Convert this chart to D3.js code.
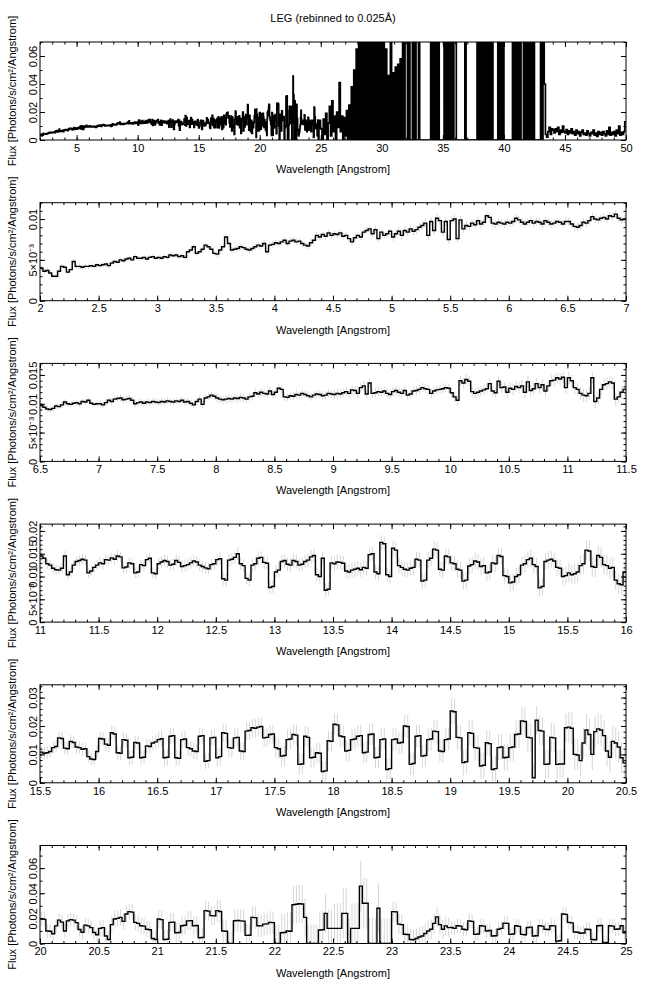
<!DOCTYPE html>
<html><head><meta charset="utf-8">
<script src="https://cdn.jsdelivr.net/npm/d3@7"></script>
<style>body{margin:0;background:#fff} text{font-family:"Liberation Sans",Arial,sans-serif;fill:#000}</style>
</head><body><svg id="c" width="647" height="995"></svg>
<script>
const TITLE = "LEG (rebinned to 0.025Å)";
const X_TITLE = "Wavelength [Angstrom]";
const Y_TITLE = "Flux [Photons/s/cm²/Angstrom]";
const FLUX_UNIT = 1e-4;

// fine spectrum: 2.0 - 25.0 Å, 0.025 Å bins (flux in 1e-4 units)
const fineStart = 2.0, fineStep = 0.025;
const fluxFine = [
// 2.0
40,36,37,34,30,30,36,42,41,35,38,48,42,42,41,42,42,43,42,44,
// 2.5
43,44,45,43,46,48,47,50,49,51,52,50,54,52,52,53,51,53,54,52,
// 3.0
53,52,54,53,56,55,56,54,55,53,60,62,66,58,60,63,68,66,63,58,
// 3.5
57,62,66,78,70,62,63,64,66,65,63,62,64,66,68,67,70,60,68,69,
// 4.0
71,70,72,74,70,73,74,72,73,70,68,67,71,74,80,78,81,79,83,80,
// 4.5
82,81,83,79,80,76,72,77,80,78,84,86,88,82,87,76,84,80,82,85,
// 5.0
78,82,85,80,86,84,88,85,87,90,92,95,80,97,86,101,98,84,97,75,
// 5.5
98,100,76,99,88,92,91,95,93,98,94,96,104,102,95,94,96,95,94,96,
// 6.0
95,97,101,99,96,94,96,98,95,97,96,94,98,96,94,95,97,96,94,97,
// 6.5
97,94,91,90,92,96,95,98,103,100,99,101,102,100,104,103,106,101,99,100,
// 7.0
100,98,102,106,104,108,109,110,107,108,109,106,100,102,103,101,103,102,104,103,
// 7.5
102,104,103,105,104,103,105,104,106,103,104,101,98,104,108,99,110,112,115,113,
// 8.0
110,108,107,108,109,108,110,109,111,110,108,112,113,119,117,120,118,117,122,116,
// 8.5
120,127,125,112,111,114,113,116,115,118,116,114,112,115,117,116,114,115,118,117,
// 9.0
116,118,117,119,121,118,124,123,118,128,131,117,136,118,119,121,120,122,118,116,
// 9.5
121,123,120,118,123,115,117,122,123,125,128,126,125,118,122,124,125,126,128,127,
// 10.0
119,112,106,140,136,142,139,121,118,120,122,124,126,135,122,119,139,128,129,120,
// 10.5
127,125,130,128,131,120,138,123,126,135,128,133,122,131,140,141,145,143,146,128,
// 11.0
145,140,128,125,118,115,114,118,145,104,110,125,133,135,138,136,108,112,120,125,
// 11.5
130,128,137,136,141,138,145,143,119,121,130,128,108,110,126,124,137,140,108,106,
// 12.0
128,132,135,133,125,127,135,131,122,124,126,130,134,132,125,122,119,117,126,128,
// 12.5
137,139,95,92,136,138,142,150,128,124,96,92,125,128,140,142,131,129,76,78,
// 13.0
110,114,133,135,127,125,135,133,125,127,133,136,143,146,104,100,140,70,72,130,
// 13.5
128,132,131,129,112,110,114,116,118,115,120,118,148,150,110,106,175,172,104,100,
// 14.0
162,158,124,120,116,114,118,120,138,136,90,92,136,140,160,158,116,114,145,143,
// 14.5
130,128,116,114,90,92,123,126,134,132,122,124,108,110,130,128,146,144,102,100,
// 15.0
86,88,100,104,125,128,137,140,126,122,75,78,133,136,138,134,120,118,100,102,
// 15.5
108,104,106,110,124,128,158,156,122,120,146,142,126,124,118,120,92,84,82,110,
// 16.0
156,154,136,132,176,172,106,104,152,150,88,90,142,140,88,90,130,128,140,144,
// 16.5
152,155,88,90,164,166,88,86,152,154,124,120,112,110,164,166,76,78,158,160,
// 17.0
88,92,176,174,124,122,158,160,112,110,182,184,194,192,196,198,158,160,170,172,
// 17.5
124,120,94,96,152,154,170,168,65,66,164,160,88,90,106,104,40,42,148,146,
// 18.0
206,204,165,162,112,114,152,154,164,166,106,108,170,172,88,90,152,154,47,50,
// 18.5
152,154,140,142,200,198,65,68,164,166,94,96,152,154,182,180,112,110,152,154,
// 19.0
253,250,160,158,71,74,176,174,124,122,59,62,141,138,47,50,124,126,88,90,
// 19.5
124,126,170,172,218,216,160,158,18,220,184,182,65,66,160,158,65,66,66,194,
// 20.0
196,192,100,98,78,140,186,170,100,180,190,186,166,112,90,146,140,126,88,70,
// 20.5
120,126,60,32,150,195,200,208,176,235,254,250,168,160,141,138,114,110,40,32,
// 21.0
195,190,32,34,168,170,86,88,141,145,180,182,140,143,46,48,262,258,222,220,
// 21.5
262,255,100,98,0,0,181,183,180,178,65,66,208,206,141,140,154,156,168,166,
// 22.0
0,0,86,88,100,98,308,312,316,314,208,0,0,0,0,108,110,240,120,120,
// 22.5
120,120,120,240,240,0,120,120,120,457,320,320,0,0,0,280,0,0,0,0,
// 23.0
254,252,154,150,74,72,32,30,40,52,60,80,100,114,160,212,150,113,140,126,
// 23.5
127,120,141,138,114,110,180,176,73,76,141,138,100,104,60,62,114,120,162,160,
// 24.0
73,76,141,136,73,70,127,130,60,62,141,138,114,112,141,140,19,22,235,232,
// 24.5
168,164,92,90,81,84,114,112,32,30,141,143,5,8,141,138,114,116,141,86
];

// error half-lengths per 0.5 Å chunk of the fine spectrum (1e-4 units)
const errChunk = 0.5;
const errFine = [
3,3,3,4,4,4,5,5,5,5,
6,6,7,7,8,8,9,10,11,12,
13,14,15,16,17,18,19,22,25,28,
32,36,38,40,45,50,55,65,75,90,
150,200,80,55,55,55
];

// long-wavelength part, 25 - 50 Å shown in the overview (1e-4 units, 0.1 Å steps)
const coarseStart = 25.0, coarseStep = 0.1;
const fluxCoarse = [
80,0,150,40,190,0,120,240,30,280,
60,170,0,200,90,410,60,170,0,160,
30,210,0,250,0,380,0,500,0,650,
0,900,0,900,0,900,0,900,0,900,
0,900,0,900,0,900,0,900,0,900,
0,900,0,650,0,460,0,900,0,480,
0,520,0,540,0,580,0,900,0,900,
900,0,900,0,0,900,0,900,0,0,
900,0,0,0,0,0,0,0,0,0,
900,0,900,0,900,0,900,0,0,0,
0,900,0,900,0,900,0,900,0,900,
900,0,0,0,0,0,0,0,900,0,
0,0,0,0,0,0,0,0,900,0,
900,0,900,0,900,0,900,0,900,0,
900,0,0,0,0,900,0,900,0,900,
0,0,0,0,0,0,0,900,0,900,
0,900,0,900,0,0,900,0,900,0,
900,0,900,0,900,0,0,0,0,0,
900,0,900,400,40,20,60,90,40,80,
70,50,80,60,90,40,70,55,100,60,
50,75,40,65,50,80,45,60,35,70,
45,60,30,55,70,40,50,35,65,45,
30,55,45,70,35,50,25,60,40,55,
35,60,45,30,65,40,90,35,55,40,
60,30,70,45,100,35,55,40,60,130
];

// panels
const panelXDomain = [[2,50],[2,7],[6.5,11.5],[11,16],[15.5,20.5],[20,25]];
const panelYMax = [0.07,0.012,0.017,0.0215,0.0345,0.078];
const panelXMajor = [5,0.5,0.5,0.5,0.5,0.5];
const panelXMinor = [1,0.1,0.1,0.1,0.1,0.1];
const panelYTicks = [[0,0.02,0.04,0.06],[0,0.005,0.01],[0,0.005,0.01,0.015],[0,0.005,0.01,0.015,0.02],[0,0.01,0.02,0.03],[0,0.02,0.04,0.06]];
const panelYLabels = [["0","0.02","0.04","0.06"],["0","5×10⁻³","0.01"],["0","5×10⁻³","0.01","0.015"],["0","5×10⁻³","0.01","0.015","0.02"],["0","0.01","0.02","0.03"],["0","0.02","0.04","0.06"]];
const panelYMinor = [0.01,0.001,0.001,0.001,0.002,0.01];
const panelShowErrors = [false,true,true,true,true,true];

const svg = d3.select("#c");
const plotLeft = 40, plotRight = 626, top0 = 42, panelStep = 160.7, panelH = 98;

svg.append("text").attr("x",(plotLeft+plotRight)/2).attr("y",22).attr("text-anchor","middle")
  .attr("font-size",11).text(TITLE);

const perChunk = Math.round(errChunk/fineStep);
const bins = [];
fluxFine.forEach((v,i)=>{
  const x0 = fineStart + i*fineStep;
  bins.push({x0, x1:x0+fineStep, v:v*FLUX_UNIT, e:errFine[Math.floor(i/perChunk)]*FLUX_UNIT});
});
fluxCoarse.forEach((v,i)=>{
  const x0 = coarseStart + i*coarseStep;
  bins.push({x0, x1:x0+coarseStep, v:v*FLUX_UNIT, e:null});
});

function stepRange(a,b,s){
  const k0 = Math.ceil(a/s-1e-6), k1 = Math.floor(b/s+1e-6);
  return d3.range(k0,k1+1).map(k=>+(k*s).toFixed(6));
}
const fmtX = v => String(+v.toFixed(3));

panelXDomain.forEach((xd,k)=>{
  const top = top0 + k*panelStep, bottom = top + panelH;
  const x = d3.scaleLinear().domain(xd).range([plotLeft,plotRight]);
  const y = d3.scaleLinear().domain([0,panelYMax[k]]).range([bottom,top]);
  const g = svg.append("g");
  const clipId = "clip"+k;
  svg.append("clipPath").attr("id",clipId).append("rect")
    .attr("x",plotLeft).attr("y",top).attr("width",plotRight-plotLeft).attr("height",panelH);
  const sel = bins.filter(b=>b.x1>xd[0]+1e-9 && b.x0<xd[1]-1e-9);
  const pg = g.append("g").attr("clip-path",`url(#${clipId})`);
  if (panelShowErrors[k]) {
    pg.selectAll("line").data(sel.filter(b=>b.e!==null)).join("line")
      .attr("x1",b=>x((b.x0+b.x1)/2)).attr("x2",b=>x((b.x0+b.x1)/2))
      .attr("y1",b=>y(Math.max(0,b.v-b.e))).attr("y2",b=>y(b.v+b.e))
      .attr("stroke","#d6d6d6").attr("stroke-width",1);
  }
  const pts = sel.map(b=>[b.x0,b.v]);
  pts.push([sel[sel.length-1].x1, sel[sel.length-1].v]);
  const line = d3.line().x(d=>x(d[0])).y(d=>y(d[1])).curve(d3.curveStepAfter);
  pg.append("path").attr("d",line(pts)).attr("fill","none").attr("stroke","#000")
    .attr("stroke-width",k===0?1.7:1.4).attr("stroke-linejoin","miter");

  // axes (ticks inward on all sides)
  const xMaj = stepRange(xd[0],xd[1],panelXMajor[k]);
  const xMin = stepRange(xd[0],xd[1],panelXMinor[k]);
  const yMin = stepRange(0,panelYMax[k],panelYMinor[k]);
  const xMajLab = k===0 ? xMaj.filter(v=>v>=5) : xMaj;
  const styleAxis = a => { a.select(".domain").remove(); a.selectAll("line").attr("stroke","#000"); };

  g.append("g").attr("transform",`translate(0,${bottom})`)
    .call(d3.axisBottom(x).tickValues(xMin).tickSize(-2.5).tickFormat("")).call(styleAxis);
  g.append("g").attr("transform",`translate(0,${bottom})`)
    .call(d3.axisBottom(x).tickValues(xMajLab).tickSize(-5).tickPadding(4).tickFormat(fmtX))
    .call(styleAxis).call(a=>a.selectAll("text").attr("font-size",11).attr("font-family","Liberation Sans, Arial, sans-serif"));
  g.append("g").attr("transform",`translate(0,${top})`)
    .call(d3.axisTop(x).tickValues(xMin).tickSize(-2.5).tickFormat("")).call(styleAxis);
  g.append("g").attr("transform",`translate(0,${top})`)
    .call(d3.axisTop(x).tickValues(xMajLab).tickSize(-5).tickFormat("")).call(styleAxis);

  g.append("g").attr("transform",`translate(${plotLeft},0)`)
    .call(d3.axisLeft(y).tickValues(yMin).tickSize(-2.5).tickFormat("")).call(styleAxis);
  g.append("g").attr("transform",`translate(${plotLeft},0)`)
    .call(d3.axisLeft(y).tickValues(panelYTicks[k]).tickSize(-5).tickFormat((d,i)=>panelYLabels[k][i]))
    .call(styleAxis)
    .call(a=>a.selectAll("text").attr("x",0).attr("dy",null).attr("text-anchor","middle")
      .attr("transform","translate(-3,0) rotate(-90)").attr("font-size",11)
      .attr("font-family","Liberation Sans, Arial, sans-serif"));
  g.append("g").attr("transform",`translate(${plotRight},0)`)
    .call(d3.axisRight(y).tickValues(yMin).tickSize(-2.5).tickFormat("")).call(styleAxis);
  g.append("g").attr("transform",`translate(${plotRight},0)`)
    .call(d3.axisRight(y).tickValues(panelYTicks[k]).tickSize(-5).tickFormat("")).call(styleAxis);

  g.append("rect").attr("x",plotLeft).attr("y",top).attr("width",plotRight-plotLeft).attr("height",panelH)
    .attr("fill","none").attr("stroke","#000").attr("stroke-width",1);

  g.append("text").attr("x",(plotLeft+plotRight)/2).attr("y",bottom+33).attr("text-anchor","middle")
    .attr("font-size",11).text(X_TITLE);
  g.append("text").attr("transform",`translate(16,${(top+bottom)/2}) rotate(-90)`)
    .attr("text-anchor","middle").attr("font-size",11).text(Y_TITLE);
});
</script></body></html>
